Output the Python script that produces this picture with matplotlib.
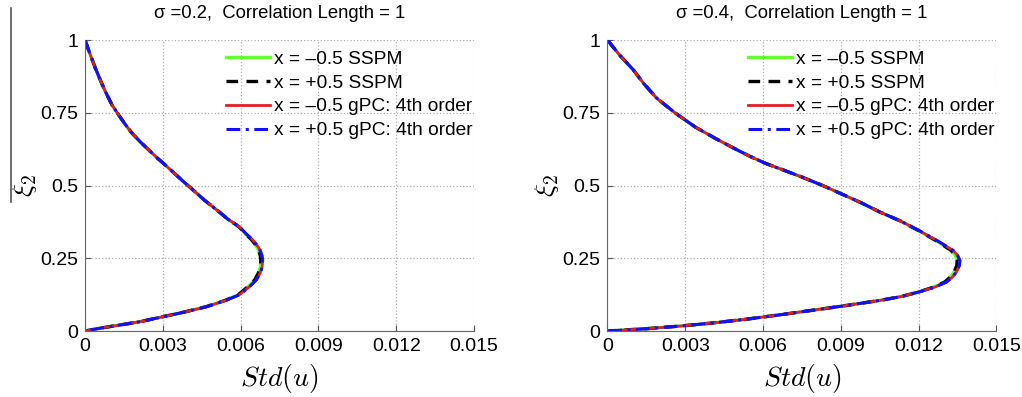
import matplotlib
matplotlib.use("Agg")
import matplotlib.pyplot as plt
from matplotlib.lines import Line2D

plt.rcParams['font.family'] = ['Liberation Sans', 'DejaVu Sans']
plt.rcParams['mathtext.fontset'] = 'cm'

# panel 1: sigma = 0.2  (xi_2 on the y axis, Std(u) on the x axis)
xi_a = [1.0, 0.95, 0.903, 0.86, 0.822, 0.777, 0.742, 0.71, 0.679, 0.65, 0.622, 0.595,
        0.57, 0.553, 0.513, 0.49, 0.45, 0.416, 0.385, 0.358, 0.335, 0.313, 0.295, 0.278,
        0.26, 0.244, 0.22, 0.198, 0.175, 0.152, 0.124, 0.105, 0.0835, 0.065, 0.049, 0.032,
        0.02, 0.01, 0.0]
sspm_a = [0, 0.0002, 0.0004, 0.0006, 0.00079, 0.00104, 0.0013, 0.00155, 0.00182, 0.00213,
          0.00246, 0.00278, 0.0031, 0.00331, 0.0038, 0.0041, 0.0046, 0.00508, 0.0055, 0.00594,
          0.00618, 0.00643, 0.00659, 0.00669, 0.00676, 0.00678, 0.00676, 0.00668, 0.00654,
          0.00628, 0.0059, 0.0054, 0.00467, 0.00382, 0.003, 0.00212, 0.0013, 0.0006, 0]
gpc_a = [0, 0.0002, 0.0004, 0.0006, 0.00079, 0.00104, 0.0013, 0.00155, 0.00182, 0.00213,
         0.00246, 0.00278, 0.0031, 0.00331, 0.0038, 0.0041, 0.0046, 0.00508, 0.0055, 0.00596,
         0.0062, 0.00647, 0.00663, 0.00675, 0.00682, 0.00685, 0.00683, 0.00675, 0.0066,
         0.00634, 0.00594, 0.00542, 0.00469, 0.00383, 0.003, 0.00212, 0.0013, 0.0006, 0]

# panel 2: sigma = 0.4
xi_b = [1.0, 0.948, 0.897, 0.85, 0.80, 0.75, 0.70, 0.66, 0.627, 0.60, 0.576, 0.558,
        0.529, 0.5, 0.472, 0.44, 0.409, 0.378, 0.346, 0.306, 0.277, 0.26, 0.243, 0.225,
        0.203, 0.185, 0.168, 0.15, 0.134, 0.118, 0.105, 0.085, 0.07, 0.055, 0.04, 0.028,
        0.017, 0.008, 0.0]
sspm_b = [0, 0.00047, 0.001, 0.0014, 0.0019, 0.0026, 0.0034, 0.0042, 0.0049, 0.0055,
          0.0061, 0.00664, 0.0075, 0.0083, 0.009, 0.0098, 0.0105, 0.0113, 0.01198, 0.01276,
          0.01325, 0.01341, 0.01349, 0.01347, 0.01337, 0.01322, 0.013, 0.01255, 0.012,
          0.0113, 0.0105, 0.009, 0.0078, 0.0066, 0.0053, 0.0041, 0.0028, 0.0015, 0]
gpc_b = [0, 0.00047, 0.001, 0.0014, 0.0019, 0.0026, 0.0034, 0.0042, 0.0049, 0.0055,
         0.0061, 0.00664, 0.0075, 0.0083, 0.009, 0.0098, 0.0105, 0.0113, 0.012, 0.0128,
         0.01333, 0.0135, 0.01359, 0.01357, 0.01346, 0.0133, 0.01307, 0.0126, 0.012,
         0.0113, 0.0105, 0.009, 0.0078, 0.0066, 0.0053, 0.0041, 0.0028, 0.0015, 0]

titles = ['σ =0.2,  Correlation Length = 1', 'σ =0.4,  Correlation Length = 1']
labels = ['x = –0.5 SSPM', 'x = +0.5 SSPM', 'x = –0.5 gPC: 4th order', 'x = +0.5 gPC: 4th order']
xticks = [0, 0.003, 0.006, 0.009, 0.012, 0.015]
xtick_labels = ['0', '0.003', '0.006', '0.009', '0.012', '0.015']
yticks = [0, 0.25, 0.5, 0.75, 1]
ytick_labels = ['0', '0.25', '0.5', '0.75', '1']

# the -0.5 and +0.5 curves coincide, so each method's list serves both
panels = [
    (xi_a, [sspm_a, sspm_a, gpc_a, gpc_a]),
    (xi_b, [sspm_b, sspm_b, gpc_b, gpc_b]),
]
styles = [
    dict(color='#66ff33', ls='-', lw=2.4),
    dict(color='black', ls=(0, (3.5, 2.5)), lw=2.4),
    dict(color='#e02020', ls='-', lw=2.0),
    dict(color='#1010ff', ls=(0, (4.5, 1.8, 1, 1.8)), lw=2.2),
]

fig = plt.figure(figsize=(10.22, 3.97), dpi=100)
lefts = [0.0832, 0.5944]

for i, (xi, series) in enumerate(panels):
    ax = fig.add_axes([lefts[i], 0.1662, 0.3806, 0.733])
    for s, st, lab in zip(series, styles, labels):
        ax.plot(s, xi, label=lab, **st)
    ax.set_xlim(0, 0.015)
    ax.set_ylim(0, 1)
    ax.set_xticks(xticks)
    ax.set_xticklabels(xtick_labels)
    ax.set_yticks(yticks)
    ax.set_yticklabels(ytick_labels)
    ax.tick_params(direction='in', labelsize=14, length=4, color='#555555', pad=5)
    ax.grid(True, ls=':', color='#b0b0b0', lw=0.9)
    for sp in ['top', 'right']:
        ax.spines[sp].set_visible(False)
    for sp in ['left', 'bottom']:
        ax.spines[sp].set_color('#666666')
    ax.set_title(titles[i], fontsize=13.3, pad=16)
    ax.set_xlabel('$Std(u)$', fontsize=20, labelpad=5)
    ax.set_ylabel(r'$\xi_2$', fontsize=20, labelpad=1)
    ax.legend(loc='upper left', bbox_to_anchor=(0.342, 0.99), frameon=False,
              fontsize=13.8, handlelength=2.3, handletextpad=0.2, labelspacing=0.33,
              borderaxespad=0)

fig.add_artist(Line2D([0.0108, 0.0108], [0.491, 0.98], color='#555555', lw=1.2))

fig.savefig('out.png', dpi=100)
